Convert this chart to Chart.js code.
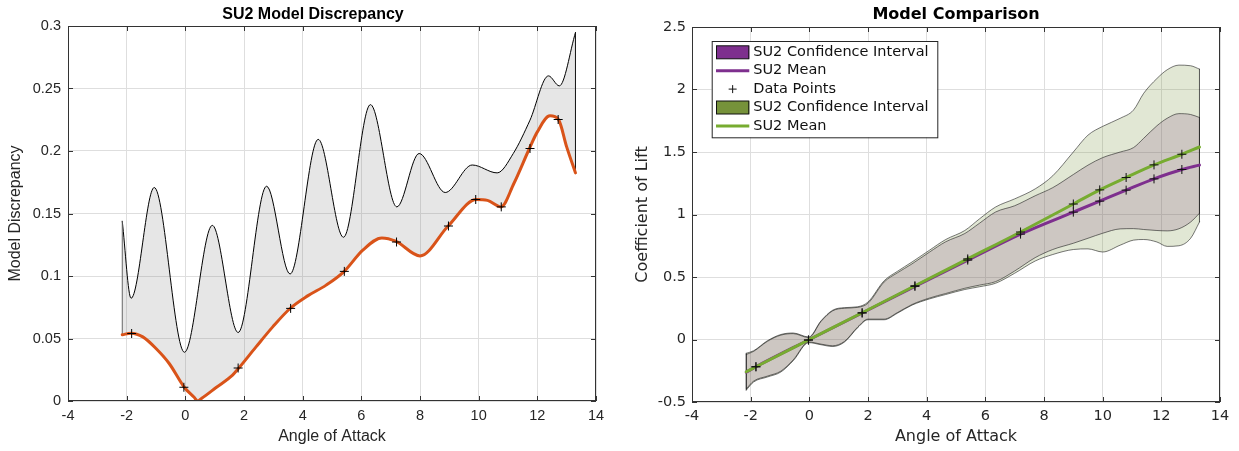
<!DOCTYPE html>
<html>
<head>
<meta charset="utf-8">
<title>SU2 lift model</title>
<script src="https://cdn.jsdelivr.net/npm/chart.js@4.4.1/dist/chart.umd.min.js"></script>
<style>
  body { margin: 0; background: #fff; }
  #discChart { position: absolute; left: 0; top: 0; }
  #liftChart { position: absolute; left: 626px; top: 0; }
</style>
</head>
<body>
<canvas id="discChart" width="626" height="451"></canvas>
<canvas id="liftChart" width="613" height="451"></canvas>
<script>
// shared x axis
const angleTicks = ['-4', '-2', '0', '2', '4', '6', '8', '10', '12', '14'];

// left panel: model discrepancy band
const discTicks = ['0', '0.05', '0.1', '0.15', '0.2', '0.25', '0.3'];
const discUpperX = [-2.15, -1.85, -1.06, -0.03, 0.92, 1.80, 2.77, 3.57, 4.53, 5.39, 6.31, 7.21, 7.97, 8.86, 9.78, 10.63, 11.18, 11.75, 12.38, 12.75, 13.3];
const discUpperY = [0.1438, 0.0822, 0.1708, 0.0390, 0.1405, 0.0548, 0.1718, 0.1016, 0.2093, 0.1310, 0.2371, 0.1553, 0.1980, 0.1668, 0.1888, 0.1825, 0.1980, 0.2247, 0.2601, 0.2521, 0.2948];
const discLowerX = [-2.15, -1.85, -1.45, -1.0, -0.55, -0.03, 0.30, 0.42, 0.55, 1.05, 1.61, 1.82, 2.41, 2.98, 3.57, 4.17, 4.80, 5.40, 6.05, 6.70, 7.17, 8.00, 8.96, 9.92, 10.30, 10.76, 11.20, 11.73, 12.00, 12.43, 12.72, 13.00, 13.3];
const discLowerY = [0.0530, 0.0543, 0.0513, 0.0420, 0.0300, 0.0108, 0.0030, 0.0000, 0.0020, 0.0108, 0.0207, 0.0263, 0.0433, 0.0593, 0.0740, 0.0841, 0.0927, 0.1033, 0.1207, 0.1305, 0.1279, 0.1161, 0.1400, 0.1612, 0.1605, 0.1553, 0.1740, 0.2020, 0.2153, 0.2281, 0.2252, 0.2033, 0.1825];
const discPointX = [-1.83, -0.05, 1.80, 3.59, 5.42, 7.20, 8.97, 9.90, 10.77, 11.75, 12.71];
const discPointY = [0.0540, 0.0110, 0.0264, 0.0741, 0.1037, 0.1272, 0.1400, 0.1612, 0.1553, 0.2020, 0.2252];

// right panel: lift coefficient, two SU2 fits
const liftTicks = ['-0.5', '0', '0.5', '1', '1.5', '2', '2.5'];
const bandX = [-2.15, -1.9, -1.43, -0.97, -0.55, -0.02, 0.4, 0.8, 1.2, 1.65, 2.0, 2.55, 3.0, 3.5, 4.1, 4.65, 5.3, 5.8, 6.35, 7.0, 7.7, 8.3, 9.0, 9.5, 10.0, 10.6, 11.05, 11.4, 11.85, 12.2, 12.6, 13.0, 13.3];
const purpleUpper = [-0.12, -0.095, -0.015, 0.035, 0.047, 0.015, 0.145, 0.23, 0.25, 0.257, 0.29, 0.46, 0.533, 0.605, 0.70, 0.782, 0.848, 0.93, 1.02, 1.07, 1.15, 1.215, 1.32, 1.395, 1.455, 1.50, 1.535, 1.61, 1.71, 1.77, 1.807, 1.80, 1.776];
const purpleLower = [-0.395, -0.333, -0.293, -0.253, -0.163, -0.02, -0.037, -0.05, -0.015, 0.10, 0.163, 0.163, 0.215, 0.28, 0.332, 0.368, 0.41, 0.435, 0.463, 0.548, 0.655, 0.72, 0.77, 0.81, 0.85, 0.885, 0.887, 0.88, 0.872, 0.869, 0.886, 0.94, 1.01];
const greenUpper = [-0.11, -0.09, -0.01, 0.04, 0.052, 0.02, 0.15, 0.235, 0.255, 0.262, 0.30, 0.47, 0.545, 0.62, 0.715, 0.80, 0.872, 0.965, 1.06, 1.125, 1.205, 1.31, 1.50, 1.635, 1.705, 1.77, 1.835, 1.97, 2.088, 2.158, 2.195, 2.19, 2.163];
const greenLower = [-0.405, -0.34, -0.30, -0.26, -0.17, -0.025, -0.042, -0.056, -0.02, 0.095, 0.158, 0.158, 0.21, 0.275, 0.325, 0.36, 0.40, 0.422, 0.45, 0.53, 0.628, 0.68, 0.72, 0.725, 0.70, 0.755, 0.795, 0.80, 0.78, 0.745, 0.75, 0.81, 0.94];
const meanX = [-2.15, -1.82, -0.03, 1.8, 3.6, 5.4, 7.2, 9.0, 9.9, 10.8, 11.75, 12.7, 13.3];
const purpleMean = [-0.262, -0.218, -0.004, 0.212, 0.425, 0.635, 0.843, 1.019, 1.107, 1.195, 1.285, 1.36, 1.395];
const greenMean = [-0.258, -0.218, -0.004, 0.214, 0.43, 0.645, 0.86, 1.084, 1.197, 1.296, 1.397, 1.482, 1.54];
const pointX = [-1.82, -0.03, 1.8, 3.6, 5.4, 7.2, 9.0, 9.9, 10.8, 11.75, 12.7];
const purplePoints = [-0.218, -0.004, 0.212, 0.425, 0.635, 0.843, 1.019, 1.107, 1.195, 1.285, 1.36];
const greenPoints = [-0.218, -0.004, 0.214, 0.43, 0.645, 0.86, 1.084, 1.197, 1.296, 1.397, 1.482];

const PURPLE = '#7E2F8E';
const GREEN = '#77AC30';
const OLIVE = '#76923A';
const ORANGE = '#D95319';
const AXIS = '#262626';

const xy = (xs, ys) => xs.map((x, i) => ({ x: x, y: ys[i] }));
// closing edge of a band at one end
const edge = (x, lo, hi) => [{ x: x, y: lo }, { x: x, y: hi }];

function edgeSet(data, color, order) {
    return { data: data, borderColor: color, borderWidth: 1, tension: 0,
             cubicInterpolationMode: 'default', fill: false, order: order };
}

function fixedTicks(labels) {
    return s => { s.ticks = labels.map(t => ({ value: Number(t) })); };
}

function scalesFor(family, yLabels, yTitle, yWidth, yTitlePad, yTickPad, xHeight) {
    const tickFont = { family: family, size: 14.5 };
    const titleFont = { family: family, size: 16, lineHeight: 1.2 };
    return {
        x: {
            type: 'linear',
            min: Number(angleTicks[0]), max: Number(angleTicks[angleTicks.length - 1]),
            afterBuildTicks: fixedTicks(angleTicks),
            afterFit: s => { s.height = xHeight; },
            ticks: { callback: (v, i) => angleTicks[i], color: AXIS, font: tickFont, padding: 6, maxRotation: 0, autoSkip: false },
            grid: { color: '#dedede', drawTicks: false },
            border: { display: false },
            title: { display: true, text: 'Angle of Attack', color: AXIS, font: titleFont, padding: { top: 0, bottom: 4.4 } }
        },
        y: {
            type: 'linear',
            min: Number(yLabels[0]), max: Number(yLabels[yLabels.length - 1]),
            afterBuildTicks: fixedTicks(yLabels),
            afterFit: s => { s.width = yWidth; },
            ticks: { callback: (v, i) => yLabels[i], color: AXIS, font: tickFont, padding: yTickPad, autoSkip: false },
            grid: { color: '#dedede', drawTicks: false },
            border: { display: false },
            title: { display: true, text: yTitle, color: AXIS, font: titleFont, padding: { top: yTitlePad, bottom: 0 } }
        }
    };
}

// axes box with inward tick marks on all four sides
const boxPlugin = {
    id: 'axesBox',
    afterDraw(chart) {
        const { ctx, chartArea: a, scales } = chart;
        const len = 5;
        ctx.save();
        ctx.strokeStyle = '#333';
        ctx.lineWidth = 1;
        ctx.strokeRect(a.left + 0.5, a.top + 0.5, a.right - a.left - 1, a.bottom - a.top - 1);
        ctx.beginPath();
        scales.x.ticks.forEach(t => {
            const px = Math.round(scales.x.getPixelForValue(t.value)) + 0.5;
            ctx.moveTo(px, a.bottom); ctx.lineTo(px, a.bottom - len);
            ctx.moveTo(px, a.top); ctx.lineTo(px, a.top + len);
        });
        scales.y.ticks.forEach(t => {
            const py = Math.round(scales.y.getPixelForValue(t.value)) + 0.5;
            ctx.moveTo(a.left, py); ctx.lineTo(a.left + len, py);
            ctx.moveTo(a.right, py); ctx.lineTo(a.right - len, py);
        });
        ctx.stroke();
        ctx.restore();
    }
};

// legend drawn inside the plot, top left
const legendPlugin = {
    id: 'insideLegend',
    afterDraw(chart) {
        const { ctx, chartArea: a } = chart;
        const items = chart.data.datasets.filter(d => d.legendRank).sort((p, q) => p.legendRank - q.legendRank);
        const left = a.left + 19.7, top = a.top + 14, w = 225.6, h = 96.3;
        const sx = left + 4.3, sw = 33.3, tx = left + 41.6, row = 18.4;
        ctx.save();
        ctx.fillStyle = '#fff';
        ctx.fillRect(left, top, w, h);
        ctx.strokeStyle = AXIS;
        ctx.lineWidth = 1;
        ctx.strokeRect(left + 0.5, top + 0.5, w, h);
        ctx.font = '14.5px "DejaVu Sans"';
        ctx.textBaseline = 'middle';
        items.forEach((d, i) => {
            const cy = top + 11.3 + i * row;
            if (d.legendKind === 'patch') {
                ctx.fillStyle = d.swatch;
                ctx.fillRect(sx, cy - 6.5, sw, 13);
                ctx.strokeStyle = '#111';
                ctx.strokeRect(sx + 0.5, cy - 6.5, sw - 1, 13);
            } else if (d.legendKind === 'line') {
                ctx.strokeStyle = d.borderColor;
                ctx.lineWidth = 3;
                ctx.beginPath(); ctx.moveTo(sx, cy); ctx.lineTo(sx + sw, cy); ctx.stroke();
            } else {
                const cx = sx + sw / 2;
                ctx.strokeStyle = '#111';
                ctx.lineWidth = 1;
                ctx.beginPath();
                ctx.moveTo(cx - 4, cy); ctx.lineTo(cx + 4, cy);
                ctx.moveTo(cx, cy - 4); ctx.lineTo(cx, cy + 4);
                ctx.stroke();
            }
            ctx.fillStyle = '#111';
            ctx.fillText(d.label, tx, cy);
        });
        ctx.restore();
    }
};

const common = {
    responsive: false,
    devicePixelRatio: 1,
    animation: false,
    events: [],
    elements: {
        point: { radius: 0 },
        line: { cubicInterpolationMode: 'monotone', borderCapStyle: 'round' }
    }
};

new Chart(document.getElementById('discChart'), {
    type: 'line',
    data: {
        datasets: [
            { label: 'Discrepancy bound', data: xy(discUpperX, discUpperY), borderColor: '#000', borderWidth: 1,
              fill: '+1', backgroundColor: 'rgba(128,128,128,0.2)', order: 3 },
            { label: 'Discrepancy', data: xy(discLowerX, discLowerY), borderColor: ORANGE, borderWidth: 3, fill: false, order: 2 },
            edgeSet(edge(discUpperX[0], discLowerY[0], discUpperY[0]), '#666', 2),
            edgeSet(edge(discUpperX[discUpperX.length - 1], discLowerY[discLowerY.length - 1], discUpperY[discUpperY.length - 1]), '#111', 2),
            { label: 'Data Points', data: xy(discPointX, discPointY), showLine: false, pointStyle: 'cross',
              pointRadius: 4.5, pointBorderColor: '#000', pointBorderWidth: 1, order: 1 }
        ]
    },
    options: Object.assign({}, common, {
        layout: { padding: { left: 30, right: 30, top: 0, bottom: 0 } },
        scales: scalesFor('Liberation Sans', discTicks, 'Model Discrepancy', 38, -23.6, 7, 50),
        plugins: {
            legend: { display: false },
            tooltip: { enabled: false },
            filler: { drawTime: 'beforeDatasetsDraw' },
            title: { display: true, text: 'SU2 Model Discrepancy', color: '#000', fullSize: true,
                     font: { family: 'Liberation Sans', size: 16, weight: 'bold', lineHeight: 1.2 },
                     padding: { top: 4.9, bottom: 1.9 } }
        }
    }),
    plugins: [boxPlugin]
});

const bandLine = 'rgba(30,30,30,0.75)';
const bandX0 = bandX[0], bandX1 = bandX[bandX.length - 1];

new Chart(document.getElementById('liftChart'), {
    type: 'line',
    data: {
        datasets: [
            { label: 'SU2 Confidence Interval', legendRank: 1, legendKind: 'patch', swatch: PURPLE,
              data: xy(bandX, purpleUpper), borderColor: bandLine, borderWidth: 0.8,
              fill: '+1', backgroundColor: 'rgba(126,47,142,0.2)', order: 10 },
            { label: 'SU2 lower', data: xy(bandX, purpleLower), borderColor: bandLine, borderWidth: 0.8, fill: false, order: 10 },
            { label: 'SU2 Confidence Interval', legendRank: 4, legendKind: 'patch', swatch: OLIVE,
              data: xy(bandX, greenUpper), borderColor: bandLine, borderWidth: 0.8,
              fill: '+1', backgroundColor: 'rgba(118,146,58,0.22)', order: 9 },
            { label: 'SU2 lower', data: xy(bandX, greenLower), borderColor: bandLine, borderWidth: 0.8, fill: false, order: 9 },
            edgeSet(edge(bandX0, purpleLower[0], purpleUpper[0]), bandLine, 8),
            edgeSet(edge(bandX1, purpleLower[purpleLower.length - 1], purpleUpper[purpleUpper.length - 1]), bandLine, 8),
            edgeSet(edge(bandX0, greenLower[0], greenUpper[0]), bandLine, 8),
            edgeSet(edge(bandX1, greenLower[greenLower.length - 1], greenUpper[greenUpper.length - 1]), bandLine, 8),
            { label: 'SU2 Mean', legendRank: 2, legendKind: 'line', data: xy(meanX, purpleMean),
              borderColor: PURPLE, borderWidth: 3, fill: false, order: 5 },
            { label: 'SU2 Mean', legendRank: 5, legendKind: 'line', data: xy(meanX, greenMean),
              borderColor: GREEN, borderWidth: 3, fill: false, order: 4 },
            { label: 'Data Points', legendRank: 3, legendKind: 'marker', data: xy(pointX, purplePoints), showLine: false,
              pointStyle: 'cross', pointRadius: 4.5, pointBorderColor: '#111', pointBorderWidth: 1, order: 1 },
            { label: 'Data Points', data: xy(pointX, greenPoints), showLine: false,
              pointStyle: 'cross', pointRadius: 4.5, pointBorderColor: '#111', pointBorderWidth: 1, order: 1 }
        ]
    },
    options: Object.assign({}, common, {
        layout: { padding: { left: 0, right: 19, top: 0, bottom: 0 } },
        scales: scalesFor('DejaVu Sans', liftTicks, 'Coefficient of Lift', 66, 7, 6, 49),
        plugins: {
            legend: { display: false },
            tooltip: { enabled: false },
            filler: { drawTime: 'beforeDatasetsDraw' },
            title: { display: true, text: 'Model Comparison', color: '#000', fullSize: false,
                     font: { family: 'DejaVu Sans', size: 16, weight: 'bold', lineHeight: 1.2 },
                     padding: { top: 5, bottom: 2.8 } }
        }
    }),
    plugins: [boxPlugin, legendPlugin]
});
</script>
</body>
</html>
